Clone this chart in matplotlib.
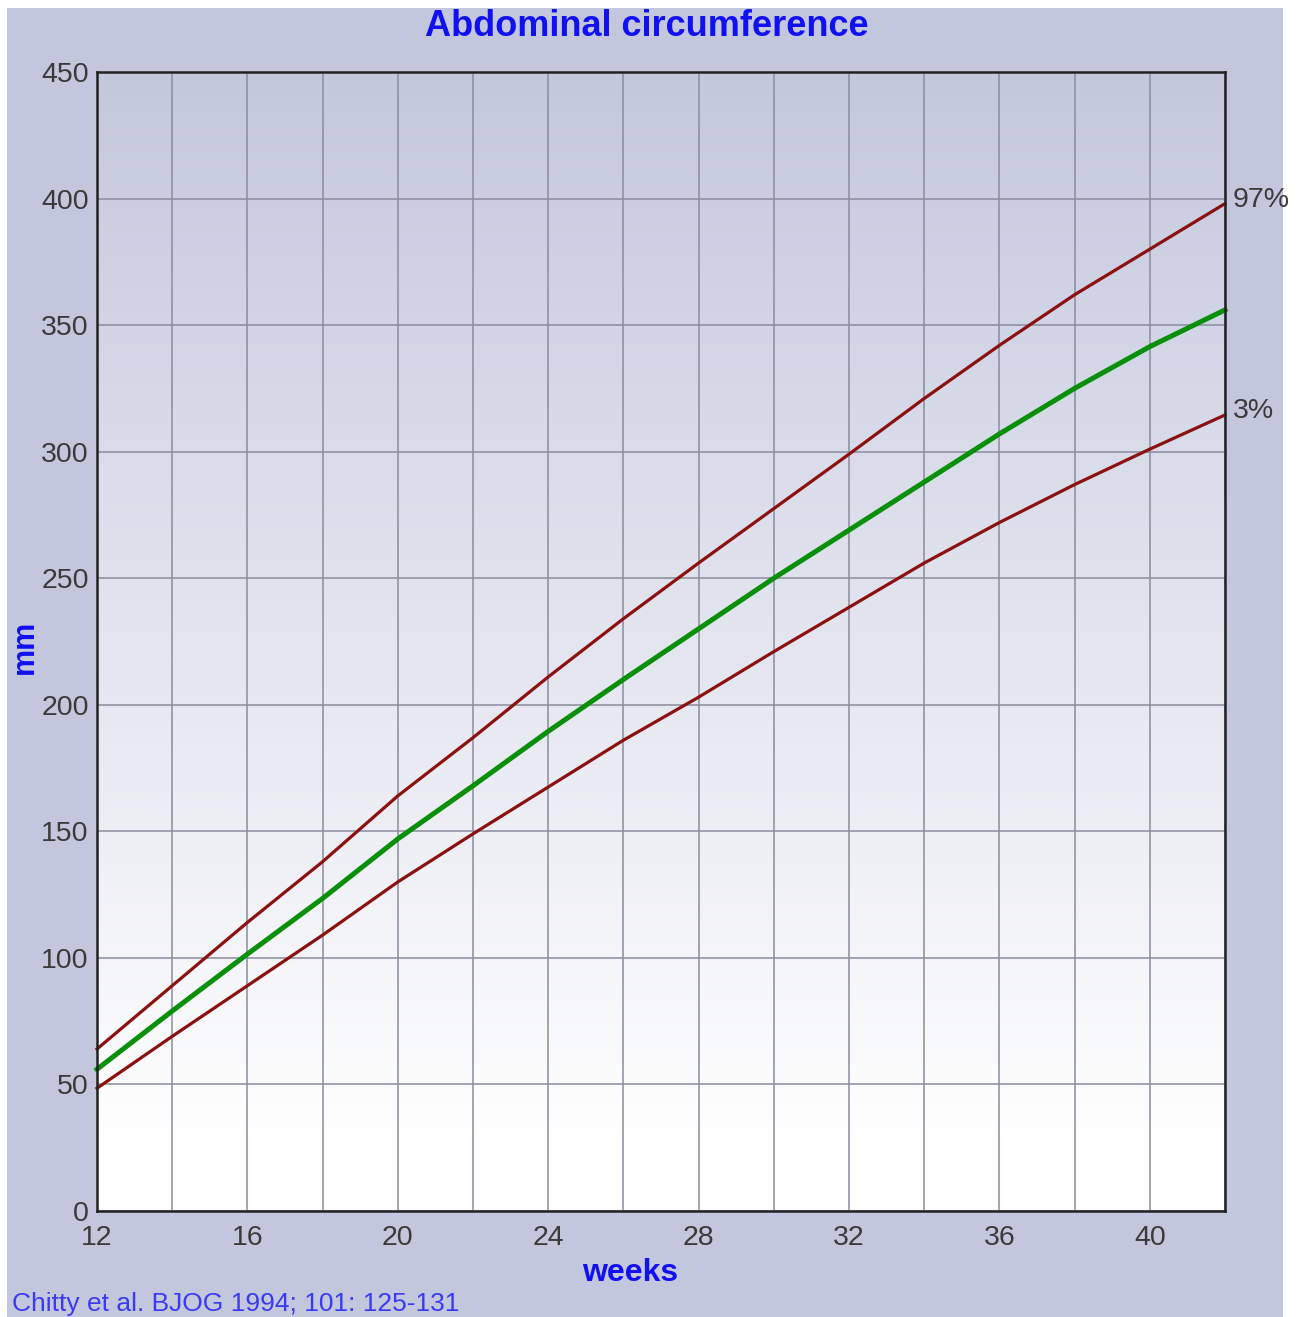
import matplotlib
matplotlib.use("Agg")
import matplotlib.pyplot as plt
import numpy as np
from matplotlib.patches import Rectangle
from matplotlib.colors import LinearSegmentedColormap

# Chitty et al. 1994 abdominal circumference (mm)
weeks = [12, 14, 16, 18, 20, 22, 24, 26, 28, 30, 32, 34, 36, 38, 40, 42]
p97 = [64, 89, 114, 138, 164, 187, 211, 234, 256, 277.5, 299, 321, 342, 362, 380, 398]
p50 = [56, 79, 101.5, 123.5, 147, 168, 189.5, 210, 230, 250, 269, 288, 307, 325, 341.5, 356]
p3 = [48.5, 69, 89, 109, 130, 149, 167.5, 186, 203, 221, 238.5, 256, 272, 287, 301, 314.5]

xticks = [12, 16, 20, 24, 28, 32, 36, 40]
yticks = [0, 50, 100, 150, 200, 250, 300, 350, 400, 450]

plt.rcParams['font.family'] = ['Liberation Sans', 'DejaVu Sans']

W, H = 1303, 1317
fig = plt.figure(figsize=(W/100, H/100), dpi=100)
fig.patch.set_facecolor('white')

lav = '#c3c7dd'
bg = Rectangle((7/W, 0), (1283-7)/W, (H-8)/H, transform=fig.transFigure,
               facecolor=lav, edgecolor='none', zorder=-10)
fig.patches.append(bg)

ax = fig.add_axes([97/W, (H-1211)/H, (1225-97)/W, (1211-72)/H])
ax.set_xlim(12, 42)
ax.set_ylim(0, 450)

# vertical gradient background
cmap = LinearSegmentedColormap.from_list('bg', [(0, '#ffffff'), (0.06, '#ffffff'), (1, '#c4c8dd')])
grad = np.linspace(0, 1, 256).reshape(-1, 1)
ax.imshow(grad, extent=[12, 42, 0, 450], origin='lower', aspect='auto', cmap=cmap, zorder=0)

ax.set_xticks(range(12, 43, 2))
ax.set_xticklabels([str(w) if w in xticks else '' for w in range(12, 43, 2)])
ax.set_yticks(yticks)
ax.grid(True, color='#8a8c9c', linewidth=1.1, zorder=1)
ax.set_axisbelow(False)
ax.tick_params(length=0, labelsize=20.5, labelcolor='#3a3a3a')
ax.tick_params(axis='x', pad=10)
ax.tick_params(axis='y', pad=6)
for s in ax.spines.values():
    s.set_color('#222222')
    s.set_linewidth(1.8)
    s.set_zorder(5)

ax.plot(weeks, p97, color='#8b1010', lw=2.3, zorder=3, clip_on=False)
ax.plot(weeks, p3, color='#8b1010', lw=2.3, zorder=3, clip_on=False)
ax.plot(weeks, p50, color='#0a8f0a', lw=3.6, zorder=3, clip_on=False)

t1 = ax.text(42.2, p97[-1] + 1.5, '97%', fontsize=20.5, color='#3a3a3a', va='center', ha='left')
t2 = ax.text(42.2, p3[-1] + 1.5, '3%', fontsize=20.5, color='#3a3a3a', va='center', ha='left')

fig.text(647/W, 1 - 27/H, 'Abdominal circumference', fontsize=26, fontweight='bold',
         color='#1010f0', ha='center', va='center')
fig.text(630/W, 1 - 1273/H, 'weeks', fontsize=23, fontweight='bold',
         color='#1010f0', ha='center', va='center')
fig.text(25/W, 1 - 647/H, 'mm', fontsize=22, fontweight='bold', rotation=90,
         color='#1010f0', ha='center', va='center')
fig.text(12/W, 1 - 1304/H, 'Chitty et al. BJOG 1994; 101: 125-131', fontsize=19,
         color='#3a3af0', ha='left', va='center')

fig.savefig('out.png', dpi=100)
